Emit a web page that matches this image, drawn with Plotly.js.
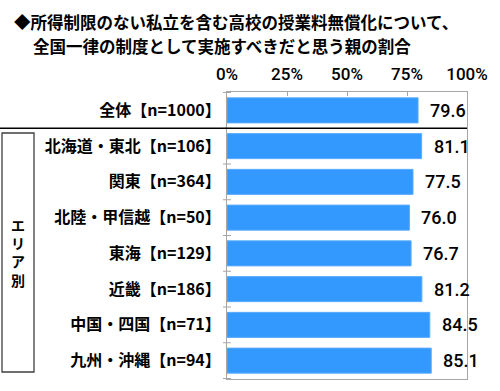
<!DOCTYPE html>
<html>
<head>
<meta charset="utf-8">
<script src="https://cdn.plot.ly/plotly-3.0.1.min.js"></script>
<style>html,body{margin:0;padding:0;background:#fff}#chart{width:500px;height:391px}</style>
</head>
<body>
<div id="chart"></div>
<script>
const categories = ["全体【n=1000】","北海道・東北【n=106】","関東【n=364】","北陸・甲信越【n=50】","東海【n=129】","近畿【n=186】","中国・四国【n=71】","九州・沖縄【n=94】"];
const values = [79.6, 81.1, 77.5, 76.0, 76.7, 81.2, 84.5, 85.1];
const xTickVals = [0, 25, 50, 75, 100];
const xTickText = ["0%", "25%", "50%", "75%", "100%"];
const titleLine1 = "◆所得制限のない私立を含む高校の授業料無償化について、";
const titleLine2 = "全国一律の制度として実施すべきだと思う親の割合";
const groupLabel = ["エ", "リ", "ア", "別"];

const W = 500, H = 391;
const M = {l: 227, r: 33, t: 92, b: 12};
const PW = W - M.l - M.r, PH = H - M.t - M.b;
const px2x = p => (p - M.l) / PW;
const py2y = p => (H - M.b - p) / PH;

const cjk = '"Noto Sans CJK JP", "Noto Sans CJK SC", sans-serif';
const latin = 'Roboto, "Liberation Sans", sans-serif';
const axisGrey = '#a6a6a6';

const trace = {
  type: 'bar',
  orientation: 'h',
  y: categories,
  x: values,
  marker: {color: '#3399ff', line: {color: '#5aabff', width: 1}},
  width: 0.7,
  hoverinfo: 'none',
  cliponaxis: false
};

const annotations = [];
values.forEach((v, i) => {
  annotations.push({
    x: v, y: categories[i], xref: 'x', yref: 'y',
    text: v.toFixed(1), showarrow: false, xanchor: 'left', yanchor: 'middle',
    xshift: 10, font: {family: latin, size: 18, color: '#000', weight: 500}
  });
});
annotations.push({
  xref: 'paper', yref: 'paper', x: px2x(12), y: py2y(22), xanchor: 'left', yanchor: 'middle',
  text: titleLine1, showarrow: false, font: {family: cjk, size: 16.5, color: '#000', weight: 'bold'}
});
annotations.push({
  xref: 'paper', yref: 'paper', x: px2x(31), y: py2y(46), xanchor: 'left', yanchor: 'middle',
  text: titleLine2, showarrow: false, font: {family: cjk, size: 16.5, color: '#000', weight: 'bold'}
});
annotations.push({
  xref: 'paper', yref: 'paper', x: px2x(18), y: py2y(252), xanchor: 'center', yanchor: 'middle',
  text: groupLabel.join('<br>'), showarrow: false, font: {family: cjk, size: 14, color: '#000', weight: 'bold'}
});

const shapes = [];
for (let i = 0; i <= categories.length; i++) {
  shapes.push({
    type: 'line', xref: 'paper', yref: 'y', x0: -4 / PW, x1: 4 / PW, y0: i - 0.5, y1: i - 0.5,
    line: {color: axisGrey, width: 1}
  });
}
shapes.push({
  type: 'line', xref: 'paper', yref: 'y', x0: px2x(0), x1: 1, y0: 0.5, y1: 0.5,
  line: {color: '#000', width: 1.5}
});
shapes.push({
  type: 'rect', xref: 'paper', yref: 'paper', x0: px2x(2), x1: px2x(34), y0: py2y(372), y1: py2y(133),
  line: {color: '#404040', width: 1.3}, fillcolor: 'rgba(0,0,0,0)'
});

const layout = {
  width: W, height: H,
  margin: M,
  paper_bgcolor: '#fff', plot_bgcolor: '#fff',
  showlegend: false,
  bargap: 0.3,
  xaxis: {
    side: 'top', range: [0, 100], tickmode: 'array', tickvals: xTickVals, ticktext: xTickText,
    ticks: 'inside', ticklen: 4, tickcolor: axisGrey, showgrid: false, zeroline: false,
    showline: true, mirror: true, linecolor: axisGrey, linewidth: 1,
    tickfont: {family: latin, size: 17, color: '#000', weight: 500},
    ticklabelstandoff: 4, fixedrange: true
  },
  yaxis: {
    type: 'category', autorange: 'reversed', ticks: '', showgrid: false, zeroline: false,
    showline: true, mirror: true, linecolor: axisGrey, linewidth: 1,
    tickfont: {family: cjk, size: 16, color: '#000', weight: 'bold'},
    ticklabelstandoff: 2, fixedrange: true
  },
  annotations: annotations,
  shapes: shapes
};

Plotly.newPlot('chart', [trace], layout, {displayModeBar: false, staticPlot: true});
</script>
</body>
</html>
